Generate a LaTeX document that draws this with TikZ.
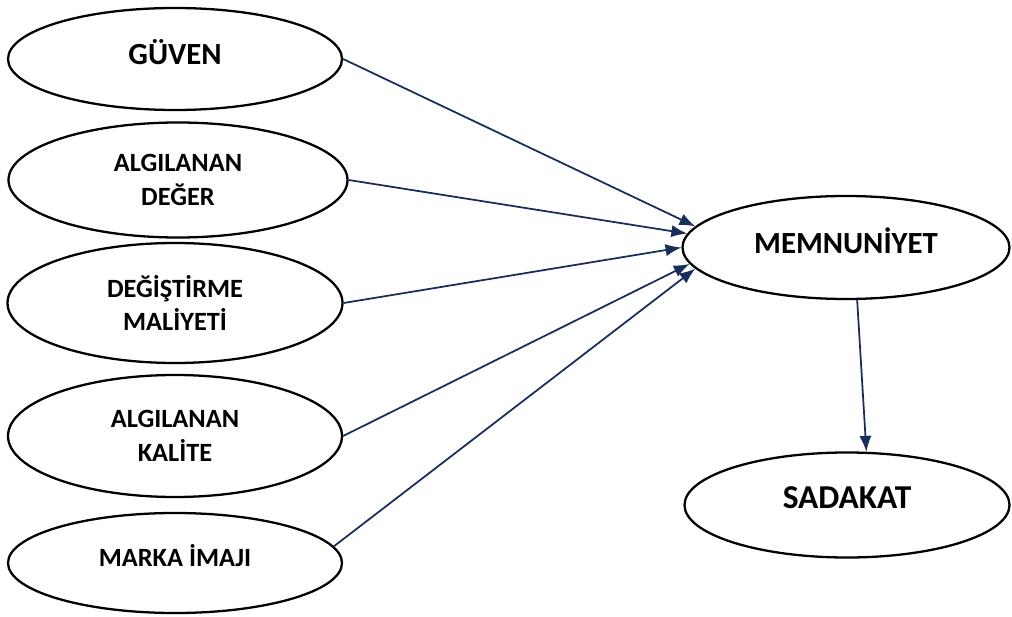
\documentclass[tikz,border=0pt]{standalone}
\usepackage{fontspec}
\setmainfont{Carlito}
\usepackage{xcolor}
\usetikzlibrary{shapes.geometric,arrows.meta}
\definecolor{navy}{RGB}{25,45,90}
\newcommand{\liftup}[1]{\raisebox{4pt}[\height][\depth]{#1}}

\begin{document}
\begin{tikzpicture}[x=2cm,y=2cm,
  oval/.style={ellipse, draw=black, line width=1.3pt, inner sep=0pt, align=center},
  link/.style={navy, line width=1pt, -{Latex[length=9pt,width=7pt]}}]
\useasboundingbox (0,0) rectangle (10.12,6.16);

% left column
\node[oval, minimum width=6.68cm, minimum height=2.04cm, font=\bfseries\fontsize{17.5}{20}\selectfont] (guven) at (1.75,5.57) {\liftup{GÜVEN}};
\node[oval, minimum width=6.78cm, minimum height=2.30cm, font=\bfseries\fontsize{15}{19}\selectfont] (deger) at (1.78,4.36) {ALGILANAN\\DEĞER};
\node[oval, minimum width=6.70cm, minimum height=2.40cm, font=\bfseries\fontsize{15}{19}\selectfont] (degis) at (1.75,3.13) {DEĞİŞTİRME\\MALİYETİ};
\node[oval, minimum width=6.68cm, minimum height=2.44cm, font=\bfseries\fontsize{15}{19}\selectfont] (kalite) at (1.75,1.80) {ALGILANAN\\KALİTE};
\node[oval, minimum width=6.68cm, minimum height=2.00cm, font=\bfseries\fontsize{15}{18}\selectfont] (marka) at (1.75,0.53) {\liftup{MARKA İMAJI}};

% right column
\node[oval, minimum width=6.54cm, minimum height=2.06cm, font=\bfseries\fontsize{17.5}{20}\selectfont] (memnun) at (8.46,3.685) {\liftup{MEMNUNİYET}};
\node[oval, minimum width=6.50cm, minimum height=2.10cm, font=\bfseries\fontsize{19}{22}\selectfont] (sadakat) at (8.47,1.11) {\liftup{SADAKAT}};

\draw[link] (guven.east) -- (memnun.172);
\draw[link] (deger.east) -- (memnun.175);
\draw[link] (degis.east) -- (memnun.180);
\draw[link] (kalite.east) -- (memnun.186);
\draw[link] (marka.6) -- (memnun.188);

\draw[link] (memnun.-78) -- (sadakat.70);

\end{tikzpicture}
\end{document}
